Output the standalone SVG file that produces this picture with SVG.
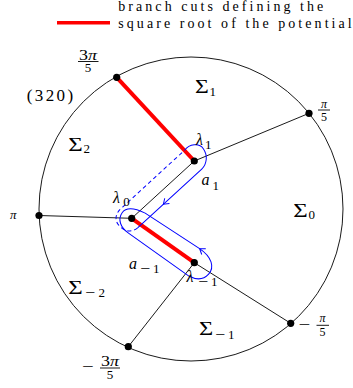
<svg xmlns="http://www.w3.org/2000/svg" width="353" height="388" viewBox="0 0 353 388">
<style>
text{font-family:"Liberation Serif","DejaVu Serif",serif;fill:#000}
.it{font-style:italic}
.sig{font-size:19px}
.sub{font-size:13px}
.mth{font-size:16px;font-style:italic}
.fr{font-size:13px}
.blk{stroke:#000;stroke-width:0.9;fill:none}
.cut{stroke:#ff0000;stroke-width:4;fill:none}
.blue{stroke:#0000ff;stroke-width:1;fill:none}
.dash{stroke-dasharray:4 3}
.dot{fill:#000}
.bar{stroke:#000;stroke-width:0.9}
</style>
<rect width="353" height="388" fill="#fff"/>

<g id="legend">
<line x1="57" y1="22.7" x2="110" y2="22.7" stroke="#ff0000" stroke-width="3.4"/>
<text x="118.3" y="11.2" font-size="14" textLength="205" lengthAdjust="spacing">branch cuts defining the</text>
<text x="118.3" y="27.9" font-size="14" textLength="233.4" lengthAdjust="spacing">square root of the potential</text>
</g>

<g id="tag"><text x="26.7" y="101" font-size="17" textLength="46.5" lengthAdjust="spacing">(320)</text></g>

<circle id="boundary" cx="191" cy="209" r="152" class="blk"/>

<g id="connectors">
<line class="blk" x1="194.3" y1="161" x2="309" y2="113.3"/>
<line class="blk" x1="194.3" y1="161" x2="131.7" y2="218.3"/>
<line class="blk" x1="131.7" y1="218.3" x2="39" y2="215.5"/>
<line class="blk" x1="194.3" y1="262.7" x2="290.7" y2="323.3"/>
<line class="blk" x1="194.3" y1="262.7" x2="128.3" y2="346.7"/>
<line class="cut" x1="116.7" y1="77.3" x2="194.3" y2="161"/>
<line class="cut" x1="131.7" y1="218.3" x2="194.3" y2="262.7"/>
</g>

<g id="cycle-a1" transform="matrix(-0.737 0.675 0.675 0.737 194.3 161)">
<path class="blue" d="M0,-14.5 C-8,-16 -16,-10 -15,-3 C-14,5 -7,11 0,11 L87,11"/>
<path class="blue dash" d="M87,11 C95,11 100,4 99,-5 C98,-12 92,-15 84,-14.5 L0,-14.5"/>
<path class="blue" d="M47,7.5 L52,11 L47,14.5"/>
</g>

<g id="cycle-a-1" transform="matrix(0.816 0.579 -0.579 0.816 131.7 218.3)">
<path class="blue" d="M-11,1 C-11,-6 -4,-10 8,-12 L72,-14.5 C88,-15 96,-8 95,1 C94,9 88,13 80,14 L6,14 C-4,14 -11,9 -11,1 Z"/>
<path class="blue" d="M78,-18 L73,-14.5 L78,-11"/>
</g>

<g id="p-3pi5">
<circle class="dot" cx="116.7" cy="77.3" r="3.6"/>
<text font-size="14" x="79" y="59.5" textLength="18" lengthAdjust="spacingAndGlyphs">3<tspan class="it">π</tspan></text>
<line class="bar" x1="78" y1="61.5" x2="98.5" y2="61.5"/>
<text class="fr" x="88" y="72" text-anchor="middle">5</text>
</g>
<g id="p-pi5">
<circle class="dot" cx="309" cy="113.3" r="3.6"/>
<text class="it" font-size="12" x="324" y="108" text-anchor="middle">π</text>
<line class="bar" x1="318" y1="110" x2="330" y2="110"/>
<text font-size="12" x="324" y="120.6" text-anchor="middle">5</text>
</g>
<g id="p-pi">
<circle class="dot" cx="39" cy="215.5" r="3.6"/>
<text class="fr it" x="10" y="219">π</text>
</g>
<g id="p-mpi5">
<circle class="dot" cx="290.7" cy="323.3" r="3.6"/>
<text class="fr" x="298.3" y="328.8" textLength="11.7" lengthAdjust="spacingAndGlyphs">−</text>
<text class="it" font-size="12" x="322.5" y="322" text-anchor="middle">π</text>
<line class="bar" x1="316.5" y1="325.3" x2="329" y2="325.3"/>
<text font-size="12" x="322.5" y="336" text-anchor="middle">5</text>
</g>
<g id="p-m3pi5">
<circle class="dot" cx="128.3" cy="346.7" r="3.6"/>
<text class="fr" x="81.7" y="370.8" textLength="11.6" lengthAdjust="spacingAndGlyphs">−</text>
<text font-size="14" x="101" y="366" textLength="18" lengthAdjust="spacingAndGlyphs">3<tspan class="it">π</tspan></text>
<line class="bar" x1="100" y1="368" x2="120" y2="368"/>
<text class="fr" x="110" y="378.7" text-anchor="middle">5</text>
</g>

<g id="lambda1">
<circle class="dot" cx="194.3" cy="161" r="3.6"/>
<text class="mth" x="196" y="145">λ</text>
<text class="sub" x="205" y="148.5">1</text>
</g>
<g id="lambda0">
<circle class="dot" cx="131.7" cy="218.3" r="3.6"/>
<text class="mth" x="113" y="203">λ</text>
<text class="sub" x="123.3" y="205.5">0</text>
</g>
<g id="lambda-1">
<circle class="dot" cx="194.3" cy="262.7" r="3.6"/>
<text class="mth" x="186.5" y="281.5">λ</text>
<text class="sub" x="198" y="285.5" textLength="10" lengthAdjust="spacingAndGlyphs">−</text>
<text class="sub" x="211" y="285.5">1</text>
</g>

<g id="label-a1">
<text class="mth" x="201.5" y="185">a</text>
<text class="sub" x="212.5" y="190">1</text>
</g>
<g id="label-a-1">
<text class="mth" x="129" y="268.5">a</text>
<text class="sub" x="140" y="272.5" textLength="10" lengthAdjust="spacingAndGlyphs">−</text>
<text class="sub" x="153" y="272.5">1</text>
</g>

<g id="sigma1"><text class="sig" x="195" y="93.3" textLength="13.8" lengthAdjust="spacingAndGlyphs">Σ</text><text class="sub" x="209.5" y="96">1</text></g>
<g id="sigma2"><text class="sig" x="68.3" y="150.7" textLength="14.5" lengthAdjust="spacingAndGlyphs">Σ</text><text class="sub" x="83.5" y="153">2</text></g>
<g id="sigma0"><text class="sig" x="293.3" y="216.7" textLength="14.5" lengthAdjust="spacingAndGlyphs">Σ</text><text class="sub" x="308.5" y="219">0</text></g>
<g id="sigma-2"><text class="sig" x="68.3" y="294.3" textLength="14.5" lengthAdjust="spacingAndGlyphs">Σ</text><text class="sub" x="85" y="296.5" textLength="10" lengthAdjust="spacingAndGlyphs">−</text><text class="sub" x="98.5" y="296.5">2</text></g>
<g id="sigma-1"><text class="sig" x="199" y="335" textLength="14.2" lengthAdjust="spacingAndGlyphs">Σ</text><text class="sub" x="215" y="339" textLength="10" lengthAdjust="spacingAndGlyphs">−</text><text class="sub" x="228" y="339">1</text></g>
</svg>
